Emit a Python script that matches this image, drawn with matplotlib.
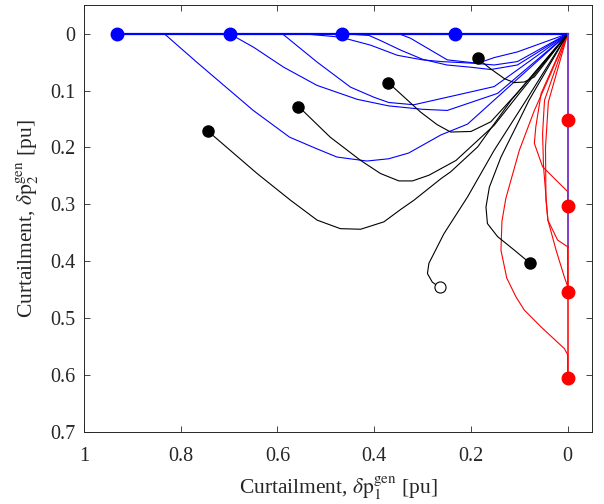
import numpy as np
import matplotlib
matplotlib.use("Agg")
from matplotlib import pyplot as plt

# Estilo (tipo Times)
plt.rcParams['font.family'] = ['Liberation Serif', 'DejaVu Serif']
plt.rcParams['mathtext.fontset'] = 'stix'

# Pontos iniciais
blue_dot_x = [0.931, 0.699, 0.466, 0.233]
red_dot_y = [0.152, 0.3035, 0.454, 0.605]
black_dot_x = [0.743, 0.557, 0.371, 0.186, 0.079]
black_dot_y = [0.172, 0.1295, 0.086, 0.043, 0.403]
open_dot_x = [0.265]
open_dot_y = [0.446]

# Eixos de corte (linhas grossas)
axis1_x = [0.931, 0.0]
axis1_y = [0.0, 0.0]
axis2_top_x = [0.0, 0.0]
axis2_top_y = [0.0, 0.375]
axis2_bot_x = [0.0, 0.0]
axis2_bot_y = [0.375, 0.605]

# Trajetorias azuis
blue_x = [
    [0.834, 0.767, 0.65, 0.575, 0.52, 0.477, 0.415, 0.37, 0.329, 0.262, 0.207, 0.0],
    [0.699, 0.649, 0.587, 0.518, 0.435, 0.37, 0.30, 0.249, 0.145, 0.0],
    [0.59, 0.518, 0.449, 0.40, 0.37, 0.318, 0.214, 0.152, 0.0],
    [0.549, 0.47, 0.408, 0.352, 0.30, 0.262, 0.193, 0.152, 0.104, 0.0],
    [0.466, 0.411, 0.387, 0.345, 0.30, 0.25, 0.2, 0.159, 0.104, 0.0],
    [0.349, 0.325, 0.283, 0.249, 0.186, 0.152, 0.104, 0.0],
]
blue_y = [
    [0.0, 0.05, 0.135, 0.182, 0.202, 0.217, 0.224, 0.22, 0.21, 0.178, 0.159, 0.0],
    [0.0, 0.024, 0.059, 0.091, 0.1155, 0.127, 0.133, 0.135, 0.105, 0.0],
    [0.0, 0.05, 0.094, 0.112, 0.121, 0.125, 0.105, 0.093, 0.0],
    [0.0, 0.006, 0.02, 0.038, 0.046, 0.049, 0.052, 0.055, 0.049, 0.0],
    [0.0, 0.003, 0.012, 0.029, 0.045, 0.055, 0.059, 0.063, 0.055, 0.0],
    [0.0, 0.008, 0.029, 0.046, 0.052, 0.042, 0.032, 0.0],
]

# Trajetorias pretas
black_x = [
    [0.743, 0.732, 0.642, 0.573, 0.518, 0.47, 0.428, 0.38, 0.345, 0.318, 0.262, 0.242, 0.186, 0.117, 0.0],
    [0.557, 0.548, 0.491, 0.428, 0.387, 0.349, 0.321, 0.287, 0.231, 0.152, 0.1, 0.0],
    [0.371, 0.304, 0.27, 0.242, 0.2, 0.159, 0.1, 0.0],
    [0.186, 0.159, 0.131, 0.111, 0.09, 0.069, 0.0],
    [0.079, 0.11, 0.145, 0.166, 0.169, 0.162, 0.138, 0.107, 0.08, 0.0],
    [0.265, 0.28, 0.29, 0.287, 0.256, 0.207, 0.152, 0.086, 0.0],
]
black_y = [
    [0.172, 0.18, 0.246, 0.293, 0.328, 0.343, 0.344, 0.331, 0.309, 0.293, 0.255, 0.243, 0.199, 0.117, 0.0],
    [0.1295, 0.135, 0.182, 0.223, 0.246, 0.259, 0.259, 0.249, 0.223, 0.161, 0.105, 0.0],
    [0.086, 0.138, 0.16, 0.173, 0.172, 0.155, 0.1, 0.0],
    [0.044, 0.062, 0.079, 0.086, 0.085, 0.076, 0.0],
    [0.403, 0.381, 0.357, 0.334, 0.305, 0.27, 0.217, 0.164, 0.117, 0.0],
    [0.446, 0.437, 0.422, 0.404, 0.352, 0.287, 0.205, 0.117, 0.0],
]

# Trajetorias vermelhas
red_x = [
    [0.0, 0.0, 0.007, 0.055, 0.09, 0.107, 0.126, 0.138, 0.136, 0.128, 0.1, 0.069, 0.035, 0.0],
    [0.0, 0.0, 0.052, 0.069, 0.066, 0.055, 0.0],
    [0.0, 0.0, 0.007, 0.024, 0.041, 0.045, 0.046, 0.04, 0.0],
    [0.0, 0.0, 0.021, 0.041, 0.05, 0.052, 0.048, 0.0],
]
red_y = [
    [0.605, 0.565, 0.554, 0.516, 0.486, 0.463, 0.43, 0.381, 0.33, 0.29, 0.205, 0.135, 0.07, 0.0],
    [0.3035, 0.278, 0.234, 0.193, 0.164, 0.105, 0.0],
    [0.454, 0.445, 0.428, 0.381, 0.328, 0.293, 0.2, 0.12, 0.0],
    [0.454, 0.375, 0.363, 0.328, 0.234, 0.176, 0.117, 0.0],
]

fig = plt.figure(figsize=(6.04, 5.04), dpi=100)
ax = fig.add_axes([0.139, 0.1437, 0.841, 0.8458])

for xs, ys in zip(red_x, red_y):
    ax.plot(xs, ys, color='red', lw=0.8)
for xs, ys in zip(blue_x, blue_y):
    ax.plot(xs, ys, color='blue', lw=0.8)
for xs, ys in zip(black_x, black_y):
    ax.plot(xs, ys, color='black', lw=0.8)

ax.plot(axis1_x, axis1_y, color='blue', lw=1.6)
ax.plot(axis2_top_x, axis2_top_y, color='#7a30c8', lw=1.3)
ax.plot(axis2_bot_x, axis2_bot_y, color='red', lw=1.1)

# Marcadores
ax.plot(blue_dot_x, np.zeros(len(blue_dot_x)), 'o', color='blue', ms=9, mec='blue')
ax.plot(np.zeros(len(red_dot_y)), red_dot_y, 'o', color='red', ms=9, mec='red')
ax.plot(black_dot_x, black_dot_y, 'o', color='black', ms=8)
ax.plot(open_dot_x, open_dot_y, 'o', mfc='white', mec='black', mew=0.8, ms=8)

ax.set_xlim(1, -0.05)
ax.set_ylim(0.7, -0.05)
ax.set_xticks([1, 0.8, 0.6, 0.4, 0.2, 0])
ax.set_xticklabels(['1', '0.8', '0.6', '0.4', '0.2', '0'])
ax.set_yticks([0, 0.1, 0.2, 0.3, 0.4, 0.5, 0.6, 0.7])
ax.set_yticklabels(['0', '0.1', '0.2', '0.3', '0.4', '0.5', '0.6', '0.7'])

ax.tick_params(direction='in', top=True, right=True, length=4, width=0.6,
               labelsize=14.5, colors='#262626')
ax.tick_params(axis='x', pad=11)
ax.tick_params(axis='y', pad=6)
for s in ax.spines.values():
    s.set_linewidth(0.7)
    s.set_color('#262626')

ax.set_xlabel(r'Curtailment, $\delta \mathrm{p}_1^{\mathrm{gen}}$ [pu]', fontsize=15.5,
              color='#262626', labelpad=6)
ax.set_ylabel(r'Curtailment, $\delta \mathrm{p}_2^{\mathrm{gen}}$ [pu]', fontsize=15.5,
              color='#262626', labelpad=7)

fig.savefig('out.png', dpi=100)
